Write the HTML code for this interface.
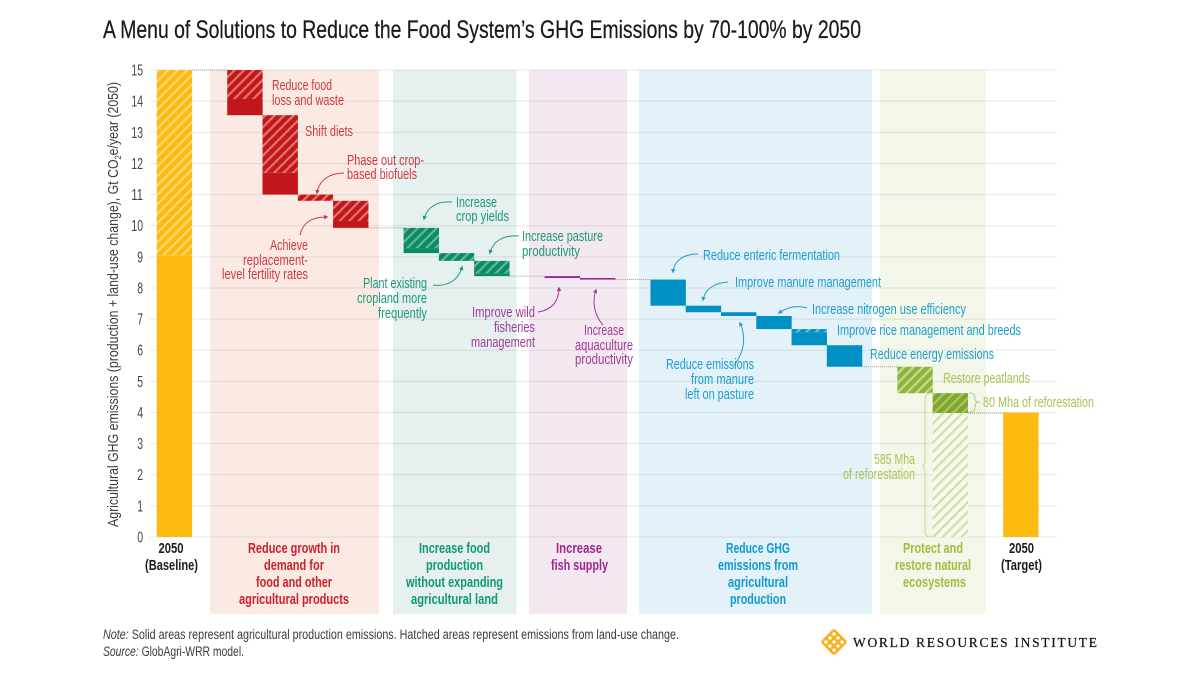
<!DOCTYPE html>
<html lang="en">
<head>
<meta charset="utf-8">
<title>A Menu of Solutions to Reduce the Food System's GHG Emissions</title>
<style>
html,body{margin:0;padding:0;background:#fff;width:1200px;height:676px;overflow:hidden}
svg{display:block}
text{font-family:"Liberation Sans Narrow","Liberation Sans",sans-serif}
.a{font-size:15px}
.b{font-size:15px;font-weight:700}
.red{fill:#cf3a3f}.grn{fill:#1a9a78}.pur{fill:#a33a97}.blu{fill:#1c9fcf}.lim{fill:#a6c452}
.rb{fill:#cc2229}.gb{fill:#0f9a72}.pb{fill:#a0278f}.bb{fill:#0f9bd0}.lb{fill:#9dbf3f}.kb{fill:#1c1c1c}
.n{font-size:13.5px;fill:#3c3c3c}
.ln{fill:none;stroke-width:1}
</style>
</head>
<body>
<svg id="chart" xmlns="http://www.w3.org/2000/svg" width="1200" height="676" viewBox="0 0 1200 676">
<defs>
<pattern id="h-yellow" width="6.7" height="6.7" patternUnits="userSpaceOnUse" patternTransform="rotate(45)"><rect width="6.7" height="6.7" fill="#fdbb11"/><rect width="2.2" height="6.7" fill="#fdd676"/></pattern>
<pattern id="h-red" width="6.7" height="6.7" patternUnits="userSpaceOnUse" patternTransform="rotate(45)"><rect width="6.7" height="6.7" fill="#c3161c"/><rect width="2.2" height="6.7" fill="#e0776c"/></pattern>
<pattern id="h-green" width="6.7" height="6.7" patternUnits="userSpaceOnUse" patternTransform="rotate(45)"><rect width="6.7" height="6.7" fill="#0a8a66"/><rect width="2.2" height="6.7" fill="#62b69c"/></pattern>
<pattern id="h-purple" width="6.7" height="6.7" patternUnits="userSpaceOnUse" patternTransform="rotate(45)"><rect width="6.7" height="6.7" fill="#96248a"/><rect width="1" height="6.7" fill="#b968ae"/></pattern>
<pattern id="h-blue" width="6.7" height="6.7" patternUnits="userSpaceOnUse" patternTransform="rotate(45)"><rect width="6.7" height="6.7" fill="#0090c4"/><rect width="2.2" height="6.7" fill="#6cbfde"/></pattern>
<pattern id="h-lime" width="6.7" height="6.7" patternUnits="userSpaceOnUse" patternTransform="rotate(45)"><rect width="6.7" height="6.7" fill="#8fb339"/><rect width="2.2" height="6.7" fill="#c5d992"/></pattern>
<pattern id="h-lime-dark" width="6.7" height="6.7" patternUnits="userSpaceOnUse" patternTransform="rotate(45)"><rect width="6.7" height="6.7" fill="#80a52c"/><rect width="2.2" height="6.7" fill="#a9c663"/></pattern>
<pattern id="h-pale" width="6.7" height="6.7" patternUnits="userSpaceOnUse" patternTransform="rotate(45)"><rect width="6.7" height="6.7" fill="#f6f9ef"/><rect width="2.2" height="6.7" fill="#d0e0a4"/></pattern>
<marker id="m-red" markerUnits="userSpaceOnUse" markerWidth="6" markerHeight="6" refX="3" refY="3" orient="auto"><path d="M0,0.8 L4.4,3 L0,5.2 Z" fill="#cf3a3f"/></marker>
<marker id="m-grn" markerUnits="userSpaceOnUse" markerWidth="6" markerHeight="6" refX="3" refY="3" orient="auto"><path d="M0,0.8 L4.4,3 L0,5.2 Z" fill="#1a9a78"/></marker>
<marker id="m-pur" markerUnits="userSpaceOnUse" markerWidth="6" markerHeight="6" refX="3" refY="3" orient="auto"><path d="M0,0.8 L4.4,3 L0,5.2 Z" fill="#a33a97"/></marker>
<marker id="m-blu" markerUnits="userSpaceOnUse" markerWidth="6" markerHeight="6" refX="3" refY="3" orient="auto"><path d="M0,0.8 L4.4,3 L0,5.2 Z" fill="#1c9fcf"/></marker>
</defs>

<text x="103" y="38" font-size="25" fill="#1a1a1a" stroke="#1a1a1a" stroke-width="0.25" textLength="758" lengthAdjust="spacingAndGlyphs">A Menu of Solutions to Reduce the Food System’s GHG Emissions by 70-100% by 2050</text>

<g>
<rect x="210" y="70" width="169" height="544" fill="#fbeae4"/>
<rect x="393" y="70" width="123.5" height="544" fill="#e6f0ee"/>
<rect x="529" y="70" width="98" height="544" fill="#f3e8f2"/>
<rect x="639" y="70" width="233" height="544" fill="#e3f1f8"/>
<rect x="880" y="70" width="106" height="544" fill="#f2f7ea"/>
</g>

<g id="axis"></g>
<g id="connectors"></g>
<g id="bars"></g>

<text transform="translate(118,527) rotate(-90)" font-size="15" fill="#3c3c3c" textLength="445" lengthAdjust="spacingAndGlyphs">Agricultural GHG emissions (production + land-use change), Gt CO<tspan font-size="9" dy="3">2</tspan><tspan dy="-3">e/year (2050)</tspan></text>

<g>
<text class="a red" x="272" y="90" textLength="60" lengthAdjust="spacingAndGlyphs">Reduce food</text>
<text class="a red" x="272" y="105" textLength="72" lengthAdjust="spacingAndGlyphs">loss and waste</text>
<text class="a red" x="305" y="136" textLength="48" lengthAdjust="spacingAndGlyphs">Shift diets</text>
<text class="a red" x="347" y="165" textLength="77" lengthAdjust="spacingAndGlyphs">Phase out crop-</text>
<text class="a red" x="347" y="179" textLength="70" lengthAdjust="spacingAndGlyphs">based biofuels</text>
<text class="a red" x="270" y="250" textLength="38" lengthAdjust="spacingAndGlyphs">Achieve</text>
<text class="a red" x="243" y="265" textLength="65" lengthAdjust="spacingAndGlyphs">replacement-</text>
<text class="a red" x="222" y="279" textLength="86" lengthAdjust="spacingAndGlyphs">level fertility rates</text>
<path class="ln" stroke="#cf3a3f" marker-end="url(#m-red)" d="M344,173 C330,173 319,180 317,193"/>
<path class="ln" stroke="#cf3a3f" marker-end="url(#m-red)" d="M300,235 C303,222 312,217 327,217"/>
</g>

<g>
<text class="a grn" x="456" y="207" textLength="41" lengthAdjust="spacingAndGlyphs">Increase</text>
<text class="a grn" x="456" y="221" textLength="53" lengthAdjust="spacingAndGlyphs">crop yields</text>
<text class="a grn" x="522" y="241" textLength="81" lengthAdjust="spacingAndGlyphs">Increase pasture</text>
<text class="a grn" x="522" y="256" textLength="58" lengthAdjust="spacingAndGlyphs">productivity</text>
<text class="a grn" x="363" y="288" textLength="64" lengthAdjust="spacingAndGlyphs">Plant existing</text>
<text class="a grn" x="357" y="303" textLength="70" lengthAdjust="spacingAndGlyphs">cropland more</text>
<text class="a grn" x="378" y="318" textLength="49" lengthAdjust="spacingAndGlyphs">frequently</text>
<path class="ln" stroke="#1a9a78" marker-end="url(#m-grn)" d="M452,202 C437,201 427,207 424,219"/>
<path class="ln" stroke="#1a9a78" marker-end="url(#m-grn)" d="M519,236 C503,235 493,241 490,253"/>
<path class="ln" stroke="#1a9a78" marker-end="url(#m-grn)" d="M433,285 C449,287 459,279 462,267"/>
</g>

<g>
<text class="a pur" x="472" y="317" textLength="63" lengthAdjust="spacingAndGlyphs">Improve wild</text>
<text class="a pur" x="494" y="332" textLength="41" lengthAdjust="spacingAndGlyphs">fisheries</text>
<text class="a pur" x="471" y="347" textLength="64" lengthAdjust="spacingAndGlyphs">management</text>
<text class="a pur" x="584" y="335" textLength="40" lengthAdjust="spacingAndGlyphs">Increase</text>
<text class="a pur" x="575" y="350" textLength="58" lengthAdjust="spacingAndGlyphs">aquaculture</text>
<text class="a pur" x="575" y="364" textLength="58" lengthAdjust="spacingAndGlyphs">productivity</text>
<path class="ln" stroke="#a33a97" marker-end="url(#m-pur)" d="M538,312 C552,310 559,301 559,288"/>
<path class="ln" stroke="#a33a97" marker-end="url(#m-pur)" d="M603,325 C594,315 592,301 596,290"/>
</g>

<g>
<text class="a blu" x="703" y="260" textLength="137" lengthAdjust="spacingAndGlyphs">Reduce enteric fermentation</text>
<text class="a blu" x="735" y="287" textLength="146" lengthAdjust="spacingAndGlyphs">Improve manure management</text>
<text class="a blu" x="812" y="314" textLength="154" lengthAdjust="spacingAndGlyphs">Increase nitrogen use efficiency</text>
<text class="a blu" x="837" y="335" textLength="184" lengthAdjust="spacingAndGlyphs">Improve rice management and breeds</text>
<text class="a blu" x="870" y="359" textLength="124" lengthAdjust="spacingAndGlyphs">Reduce energy emissions</text>
<text class="a blu" x="666" y="369" textLength="88" lengthAdjust="spacingAndGlyphs">Reduce emissions</text>
<text class="a blu" x="691" y="384" textLength="63" lengthAdjust="spacingAndGlyphs">from manure</text>
<text class="a blu" x="685" y="399" textLength="69" lengthAdjust="spacingAndGlyphs">left on pasture</text>
<path class="ln" stroke="#1c9fcf" marker-end="url(#m-blu)" d="M698,254 C683,254 674,261 673,272"/>
<path class="ln" stroke="#1c9fcf" marker-end="url(#m-blu)" d="M728,282 C713,283 705,290 703,300"/>
<path class="ln" stroke="#1c9fcf" marker-end="url(#m-blu)" d="M807,308 C796,305 787,307 779,313"/>
<path class="ln" stroke="#1c9fcf" marker-end="url(#m-blu)" d="M734,365 C745,352 746,336 740,323"/>
</g>

<g>
<text class="a lim" x="943" y="383" textLength="87" lengthAdjust="spacingAndGlyphs">Restore peatlands</text>
<text class="a lim" x="983" y="407" textLength="111" lengthAdjust="spacingAndGlyphs">80 Mha of reforestation</text>
<text class="a lim" x="874" y="464" textLength="41" lengthAdjust="spacingAndGlyphs">585 Mha</text>
<text class="a lim" x="843" y="479" textLength="72" lengthAdjust="spacingAndGlyphs">of reforestation</text>
<path fill="none" stroke="#b9d07a" stroke-width="1.1" d="M969,393 C975,393 975,396 975,399 C975,402 977,402 980,402 C977,402 975,403 975,406 C975,410 975,412 969,412"/>
<path fill="none" stroke="#d2e0a8" stroke-width="1.3" d="M932,393 C926,393 925,396 925,402 L925,459 C925,464 924,466 922,466 C924,466 925,468 925,473 L925,529 C925,535 926,537 932,537"/>
</g>

<g>
<text class="b kb" x="158.5" y="553" textLength="25" lengthAdjust="spacingAndGlyphs">2050</text>
<text class="b kb" x="145" y="570" textLength="53" lengthAdjust="spacingAndGlyphs">(Baseline)</text>
<text class="b rb" x="248" y="553" textLength="92" lengthAdjust="spacingAndGlyphs">Reduce growth in</text>
<text class="b rb" x="264" y="570" textLength="60" lengthAdjust="spacingAndGlyphs">demand for</text>
<text class="b rb" x="256" y="587" textLength="76" lengthAdjust="spacingAndGlyphs">food and other</text>
<text class="b rb" x="239" y="604" textLength="110" lengthAdjust="spacingAndGlyphs">agricultural products</text>
<text class="b gb" x="419" y="553" textLength="71" lengthAdjust="spacingAndGlyphs">Increase food</text>
<text class="b gb" x="426" y="570" textLength="57" lengthAdjust="spacingAndGlyphs">production</text>
<text class="b gb" x="406" y="587" textLength="97" lengthAdjust="spacingAndGlyphs">without expanding</text>
<text class="b gb" x="411" y="604" textLength="87" lengthAdjust="spacingAndGlyphs">agricultural land</text>
<text class="b pb" x="556" y="553" textLength="46" lengthAdjust="spacingAndGlyphs">Increase</text>
<text class="b pb" x="551" y="570" textLength="57" lengthAdjust="spacingAndGlyphs">fish supply</text>
<text class="b bb" x="726" y="553" textLength="64" lengthAdjust="spacingAndGlyphs">Reduce GHG</text>
<text class="b bb" x="718" y="570" textLength="80" lengthAdjust="spacingAndGlyphs">emissions from</text>
<text class="b bb" x="728" y="587" textLength="60" lengthAdjust="spacingAndGlyphs">agricultural</text>
<text class="b bb" x="730" y="604" textLength="56" lengthAdjust="spacingAndGlyphs">production</text>
<text class="b lb" x="903" y="553" textLength="60" lengthAdjust="spacingAndGlyphs">Protect and</text>
<text class="b lb" x="895" y="570" textLength="76" lengthAdjust="spacingAndGlyphs">restore natural</text>
<text class="b lb" x="903" y="587" textLength="63" lengthAdjust="spacingAndGlyphs">ecosystems</text>
<text class="b kb" x="1009" y="553" textLength="25" lengthAdjust="spacingAndGlyphs">2050</text>
<text class="b kb" x="1001" y="570" textLength="41" lengthAdjust="spacingAndGlyphs">(Target)</text>
</g>

<text class="n" x="103" y="639" textLength="576" lengthAdjust="spacingAndGlyphs"><tspan font-style="italic">Note:</tspan> Solid areas represent agricultural production emissions. Hatched areas represent emissions from land-use change.</text>
<text class="n" x="103" y="656" textLength="141" lengthAdjust="spacingAndGlyphs"><tspan font-style="italic">Source:</tspan> GlobAgri-WRR model.</text>

<g>
<g transform="translate(834,642) rotate(45)" stroke="#f9b122" stroke-width="2.6" fill="none">
<path d="M-8.5,-8.5 H8.5 M-8.5,-2.8 H8.5 M-8.5,2.8 H8.5 M-8.5,8.5 H8.5 M-8.5,-8.5 V8.5 M-2.8,-8.5 V8.5 M2.8,-8.5 V8.5 M8.5,-8.5 V8.5"/>
</g>
<text x="853" y="647" font-size="13.5" fill="#111" stroke="#111" stroke-width="0.2" style="font-family:'Liberation Serif',serif" textLength="244" lengthAdjust="spacing">WORLD RESOURCES INSTITUTE</text>
</g>

<script>
const tickLabels = ["0","1","2","3","4","5","6","7","8","9","10","11","12","13","14","15"];
const baselineTotal = 15.0;
const baselineHatched = 5.95;
const targetTotal = 4.0;
const reforestationRemainder = 3.98;
const stepNames = ["reduce-food-loss","shift-diets","phase-out-biofuels","fertility-rates","crop-yields","cropland-frequency","pasture-productivity","wild-fisheries","aquaculture","enteric-fermentation","manure-management","manure-on-pasture","nitrogen-efficiency","rice-management","energy-emissions","restore-peatlands","reforestation-80-mha"];
const stepGroups = ["red","red","red","red","green","green","green","purple","purple","blue","blue","blue","blue","blue","blue","lime","lime-dark"];
const stepReductions = [1.45,2.55,0.2,0.87,0.81,0.25,0.49,0.06,0.05,0.84,0.21,0.12,0.42,0.52,0.69,0.85,0.64];
const stepHatched = [0.93,1.85,0.2,0.65,0.65,0.25,0.4,0,0,0,0,0,0,0.1,0,0.85,0.64];

const solidColors = {red:"#c3161c",green:"#0a8a66",purple:"#96248a",blue:"#0090c4",lime:"#8fb339","lime-dark":"#80a52c"};
const svgNS = "http://www.w3.org/2000/svg";
const yScale = v => 537 - v * 31.13;
const xScale = col => 156.7 + 35.27 * col;
const barW = 35.4;
const axisG = document.getElementById("axis");
const barsG = document.getElementById("bars");
const connG = document.getElementById("connectors");

function rect(parent, col, top, bottom, fill) {
  const r = document.createElementNS(svgNS, "rect");
  r.setAttribute("x", xScale(col));
  r.setAttribute("y", yScale(top));
  r.setAttribute("width", barW);
  r.setAttribute("height", Math.max(0, yScale(bottom) - yScale(top)));
  r.setAttribute("fill", fill);
  parent.appendChild(r);
  return r;
}
function connector(colFrom, colTo, value) {
  const l = document.createElementNS(svgNS, "line");
  
  
  l.setAttribute("x1", xScale(colFrom));
  l.setAttribute("x2", xScale(colTo));
  l.setAttribute("y1", yScale(value));
  l.setAttribute("y2", yScale(value));
  l.setAttribute("stroke", "#9a9a9a");
  l.setAttribute("stroke-width", "1");
  l.setAttribute("stroke-dasharray", "1 1");
  connG.appendChild(l);
}

tickLabels.forEach(label => {
  const v = Number(label);
  const line = document.createElementNS(svgNS, "line");
  
  
  line.setAttribute("x1", 150);
  line.setAttribute("x2", 1057);
  line.setAttribute("y1", yScale(v));
  line.setAttribute("y2", yScale(v));
  line.setAttribute("stroke", "#000");
  line.setAttribute("stroke-opacity", "0.09");
  line.setAttribute("stroke-width", "1");
  axisG.appendChild(line);
  const t = document.createElementNS(svgNS, "text");
  
  
  t.setAttribute("x", 143 - label.length * 5.8);
  t.setAttribute("y", yScale(v) + 5.5);
  t.setAttribute("font-size", "15.5");
  t.setAttribute("fill", "#444");
  t.setAttribute("textLength", label.length * 5.8);
  t.setAttribute("lengthAdjust", "spacingAndGlyphs");
  t.textContent = label;
  axisG.appendChild(t);
});

const baselineSolid = rect(barsG, 0, baselineTotal - baselineHatched, 0, "#fdbb11");


const baselineHatch = rect(barsG, 0, baselineTotal, baselineTotal - baselineHatched, "url(#h-yellow)");



let level = baselineTotal;
let col = 2;
connector(1, 2, level);
stepNames.forEach((name, i) => {
  if (i > 0 && stepGroups[i] !== stepGroups[i - 1] && stepGroups[i] !== "lime-dark") {
    connector(col, col + 1, level);
    col += 1;
  }
  const group = stepGroups[i];
  const bottom = level - stepReductions[i];
  const hatchBottom = level - stepHatched[i];
  const solid = rect(barsG, col, hatchBottom, bottom, solidColors[group]);
  
  
  if (stepHatched[i] > 0) {
    const hatch = rect(barsG, col, level, hatchBottom, "url(#h-" + group + ")");
    
    
  }
  level = bottom;
  col += 1;
});
const lastCol = col - 1;
const pale = rect(barsG, lastCol, reforestationRemainder, 0, "url(#h-pale)");


connector(col, col + 1, level);
const targetBar = rect(barsG, col + 1, targetTotal, 0, "#fdbb11");


</script>
</svg>
</body>
</html>
